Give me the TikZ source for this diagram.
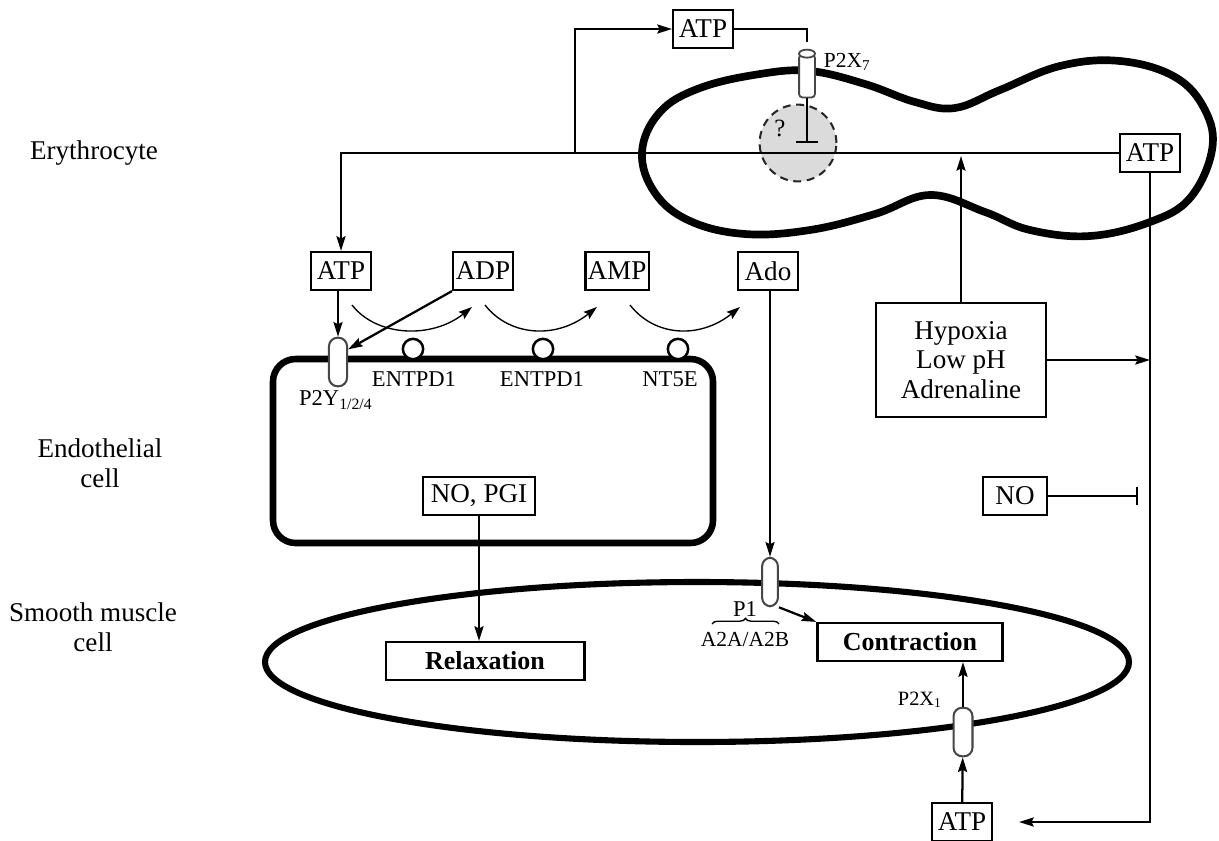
\documentclass[tikz,border=0pt]{standalone}
\usepackage{fontspec}
\setmainfont{Liberation Serif}
\usetikzlibrary{arrows.meta,decorations.pathreplacing,calc}

\tikzset{
  box/.style={draw, line width=1pt, inner sep=1pt, minimum width=26.5pt, minimum height=16.8pt, font=\fontsize{12}{14}\selectfont},
  effect/.style={box, font=\fontsize{11.5}{14}\selectfont\bfseries},
  capsule/.style={rectangle, draw=gray!55!black, line width=0.9pt, fill=white, rounded corners=3.8pt, minimum width=8pt, minimum height=21.5pt, inner sep=0pt},
  channel/.style={rectangle, draw=gray!55!black, line width=0.8pt, fill=white, rounded corners=1.5pt, minimum width=7pt, minimum height=19pt, inner sep=0pt},
  enzyme/.style={circle, draw, line width=1.1pt, fill=white, minimum size=9pt, inner sep=0pt},
  small/.style={font=\fontsize{10}{12}\selectfont},
  celltag/.style={align=center, font=\fontsize{12}{13.3}\selectfont},
  arr/.style={-{Stealth[length=6.5pt,width=4pt,inset=1pt]}, line width=1pt},
  inh/.style={-{Bar[width=10pt,line width=1pt]}, line width=1pt},
  hyd/.style={-{Stealth[length=6pt,width=4pt,inset=1pt]}, line width=0.6pt},
  membrane/.style={line width=3.4pt},
}

\begin{document}
\begin{tikzpicture}[x=0.4428pt,y=-0.4428pt]

\useasboundingbox (0,0) rectangle (1219,840);

% cell names
\node[celltag] (lblery) at (94,153) {Erythrocyte};
\node[celltag] (lblend) at (100,463) {Endothelial\\cell};
\node[celltag] (lblsmc) at (93,627) {Smooth muscle\\cell};

% membranes
\draw[membrane, line join=round] plot[smooth cycle, tension=0.65] coordinates {
  (642,152) (660,112) (700,88) (760,74) (810,71) (865,84) (915,102) (955,108)
  (1000,90) (1060,66) (1120,61) (1175,77) (1205,110) (1212,150) (1190,198)
  (1150,222) (1090,236) (1030,230) (985,212) (930,195) (875,214) (810,230)
  (745,234) (690,221) (655,193)};
\draw[line width=2.9pt, rounded corners=10pt] (273,359) rectangle (713,543);
\draw[line width=2.7pt] (697,662) ellipse [x radius=432, y radius=80];

% unknown pathway
\node[circle, draw=gray!30!black, fill=gray!28, minimum size=34pt, line width=0.9pt, dash pattern=on 3.5pt off 2.5pt] (pool) at (798,143) {};
\node[font=\fontsize{11}{13}\selectfont] (qm) at (780,128) {?};

% receptors
\node[channel] (p2x7) at (807,76) {};
\draw[draw=gray!55!black, fill=white, line width=0.8pt] (p2x7.north) ellipse [x radius=8, y radius=4];
\node[capsule] (p2y) at (338,362) {};
\node[capsule, minimum width=7pt] (p1) at (770,582) {};
\node[capsule, minimum width=8.4pt] (p2x1) at (963,732) {};

\node[font=\fontsize{9.5}{11}\selectfont, anchor=west] (lp2x7) at (816,62) {P2X\textsubscript{7}};
\node[small] (lp2y) at (336,400) {P2Y\textsubscript{1/2/4}};
\node[small] (lp1) at (745,609) {P1};
\node[font=\fontsize{9.5}{11}\selectfont] (la2) at (745,639) {A2A/A2B};
\draw[decorate, decoration={brace, amplitude=2.5pt}, line width=0.6pt] (712,624) -- (779,624);
\node[font=\fontsize{9}{11}\selectfont] (lp2x1) at (920,700) {P2X\textsubscript{1}};

% ectonucleotidases
\foreach \x/\lx/\nm [count=\i] in {413/414/ENTPD1, 543/542/ENTPD1, 678/670/NT5E} {
  \node[enzyme] (enz\i) at (\x,349) {};
  \node[small] (lenz\i) at (\lx,379) {\nm};
}

% boxes
\node[box] (atpT) at (703,29) {ATP};
\node[box] (atpR) at (1150,153) {ATP};
\node[box] (atpE) at (341,271) {ATP};
\node[box] (adp) at (483,271) {ADP};
\node[box] (amp) at (617,271) {AMP};
\node[box] (ado) at (768,271) {Ado};
\node[box, minimum width=49.6pt] (nopgi) at (479,496) {NO, PGI};
\node[box, minimum width=28.3pt] (no) at (1015,496) {NO};
\node[box, minimum width=75pt, minimum height=50.5pt, align=center, font=\fontsize{12}{13}\selectfont] (hyp) at (961,360) {Hypoxia\\Low pH\\Adrenaline};
\node[box] (atpB) at (962,822) {ATP};
\node[effect, minimum width=88pt] (relax) at (485,661) {Relaxation};
\node[effect, minimum width=82pt] (contr) at (910,642) {Contraction};

% hydrolysis steps
\foreach \s/\e [count=\i] in {352/472, 485/597, 630/740} {
  \coordinate (hs\i) at (\s,305);
  \coordinate (he\i) at (\e,307);
  \draw[hyd] (hs\i) .. controls ($(hs\i)+(25,32)$) and ($(he\i)+(-40,32)$) .. (he\i);
}

% release of ATP from the erythrocyte
\coordinate (split) at (575,153);
\coordinate (blk) at (807,143);
\coordinate (hypup) at (961,156);
\coordinate (noblk) at (1138,496);
\draw[arr] (atpR) -- (atpR -| atpE) -- (atpE);
\draw[arr] (split) |- (atpT);
\draw[line width=1pt] (atpT) -| ([yshift=5.3pt]p2x7.north);
\draw[inh] (p2x7.south) -- (blk);
\draw[arr] (hyp.north) -- (hyp.north |- hypup);
\draw[arr] (hyp.east) -- (hyp.east -| atpR);
\draw[arr, shorten >=11.5pt] (atpR) |- (atpB);
\draw[inh, -{Bar[width=8pt,line width=1pt]}] (no) -- (noblk);

% signalling
\draw[arr] (atpE.south -| p2y) -- (p2y.north);
\draw[arr] (adp.south west) -- ($(p2y.north east)!0.5!(p2y.east)$);
\draw[arr] (ado.south -| p1) -- (p1.north);
\draw[arr] (p1.south east) -- (contr.north west);
\draw[arr] (nopgi.south) -- (nopgi.south |- relax.north);
\draw[arr] (atpB) -- (p2x1);
\draw[arr] (p2x1) -- (p2x1 |- contr.south);

\end{tikzpicture}
\end{document}
